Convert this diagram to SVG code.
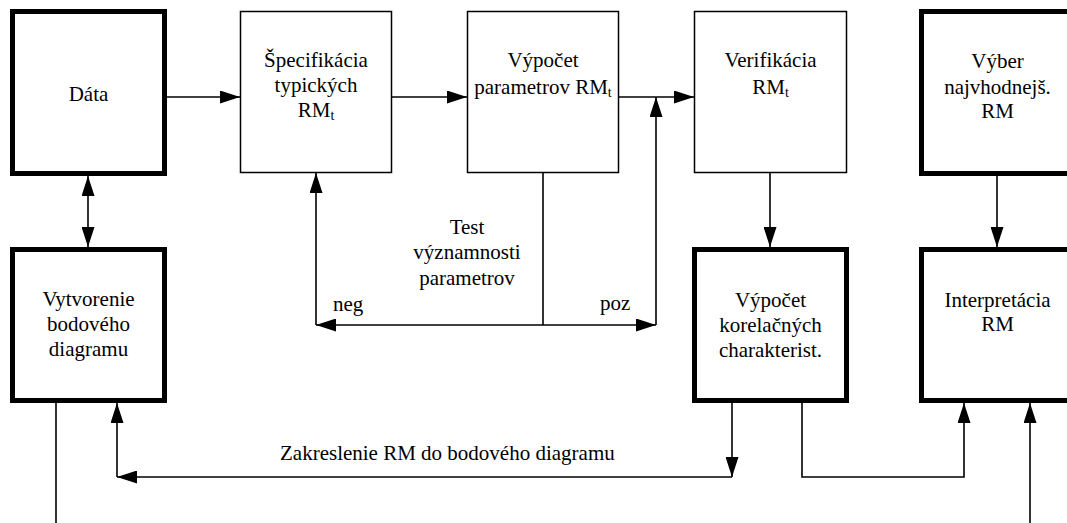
<svg xmlns="http://www.w3.org/2000/svg" width="1067" height="523" viewBox="0 0 1067 523" font-family="Liberation Serif, Times New Roman, serif" font-size="21">
<style>
.thick{fill:#fff;stroke:#000;stroke-width:5}
.thin{fill:#fff;stroke:#000;stroke-width:1.5}
.c{fill:none;stroke:#000;stroke-width:1.6}
text{font-family:"Liberation Serif","Times New Roman",serif;font-size:21px;fill:#000}
.m{text-anchor:middle}
.sub{font-size:14px}
</style>
<defs>
<marker id="ah" markerUnits="userSpaceOnUse" markerWidth="20" markerHeight="13" refX="20" refY="6.5" orient="auto-start-reverse">
<path d="M0,0 L20,6.5 L0,13 z" fill="#000"/>
</marker>
</defs>
<rect width="1067" height="523" fill="#fff"/>
<g id="connectors">
<line class="c" x1="167" y1="97" x2="240" y2="97" marker-end="url(#ah)"/>
<line class="c" x1="392" y1="97" x2="467" y2="97" marker-end="url(#ah)"/>
<line class="c" x1="619" y1="97" x2="694" y2="97" marker-end="url(#ah)"/>
<line class="c" x1="656" y1="325" x2="656" y2="97" marker-end="url(#ah)"/>
<line class="c" x1="543" y1="173" x2="543" y2="325"/>
<line class="c" x1="543" y1="325" x2="656" y2="325" marker-end="url(#ah)"/>
<line class="c" x1="543" y1="325" x2="316" y2="325" marker-end="url(#ah)"/>
<line class="c" x1="316" y1="325" x2="316" y2="173" marker-end="url(#ah)"/>
<line class="c" x1="88" y1="176" x2="88" y2="247" marker-start="url(#ah)" marker-end="url(#ah)"/>
<line class="c" x1="770" y1="173" x2="770" y2="247" marker-end="url(#ah)"/>
<line class="c" x1="997" y1="176" x2="997" y2="247" marker-end="url(#ah)"/>
<line class="c" x1="732" y1="403" x2="732" y2="477" marker-end="url(#ah)"/>
<line class="c" x1="732" y1="477" x2="117" y2="477" marker-end="url(#ah)"/>
<line class="c" x1="117" y1="477" x2="117" y2="403" marker-end="url(#ah)"/>
<polyline class="c" points="802,403 802,477 964,477 964,403" marker-end="url(#ah)"/>
<line class="c" x1="1030" y1="523" x2="1030" y2="403" marker-end="url(#ah)"/>
<line class="c" x1="56" y1="403" x2="56" y2="523"/>
<text x="467" y="234" class="m" font-family="Liberation Serif, serif">Test</text>
<text x="467" y="259" class="m" font-family="Liberation Serif, serif">významnosti</text>
<text x="467" y="285" class="m" font-family="Liberation Serif, serif">parametrov</text>
<text x="333" y="311" font-family="Liberation Serif, serif">neg</text>
<text x="600" y="310" font-family="Liberation Serif, serif">poz</text>
<text x="280" y="460" font-family="Liberation Serif, serif">Zakreslenie RM do bodového diagramu</text>
</g>
<g id="data" font-family="Liberation Serif, serif">
<rect class="thick" x="12.5" y="11.5" width="152" height="162"/>
<text x="88.5" y="101" class="m">Dáta</text>
</g>
<g id="specifikacia" font-family="Liberation Serif, serif">
<rect class="thin" x="240.5" y="11.5" width="151" height="161"/>
<text x="316" y="67" class="m">Špecifikácia</text>
<text x="316" y="92" class="m">typických</text>
<text x="316" y="117" class="m">RM<tspan class="sub" dy="3">t</tspan></text>
</g>
<g id="vypocet-parametrov" font-family="Liberation Serif, serif">
<rect class="thin" x="467.5" y="11.5" width="151" height="161"/>
<text x="543" y="67" class="m">Výpočet</text>
<text x="543" y="94" class="m">parametrov RM<tspan class="sub" dy="3">t</tspan></text>
</g>
<g id="verifikacia" font-family="Liberation Serif, serif">
<rect class="thin" x="694.5" y="11.5" width="152" height="161"/>
<text x="770.5" y="67" class="m">Verifikácia</text>
<text x="770.5" y="94" class="m">RM<tspan class="sub" dy="3">t</tspan></text>
</g>
<g id="vyber" font-family="Liberation Serif, serif">
<rect class="thick" x="921.5" y="11.5" width="152" height="162"/>
<text x="997.5" y="68" class="m">Výber</text>
<text x="997.5" y="93.5" class="m">najvhodnejš.</text>
<text x="997.5" y="118" class="m">RM</text>
</g>
<g id="vytvorenie" font-family="Liberation Serif, serif">
<rect class="thick" x="12.5" y="249.5" width="152" height="151"/>
<text x="88.5" y="306" class="m">Vytvorenie</text>
<text x="88.5" y="331" class="m">bodového</text>
<text x="88.5" y="356" class="m">diagramu</text>
</g>
<g id="korelacne" font-family="Liberation Serif, serif">
<rect class="thick" x="694.5" y="249.5" width="152" height="151"/>
<text x="770.5" y="307" class="m">Výpočet</text>
<text x="770.5" y="332" class="m">korelačných</text>
<text x="770.5" y="357" class="m">charakterist.</text>
</g>
<g id="interpretacia" font-family="Liberation Serif, serif">
<rect class="thick" x="921.5" y="249.5" width="152" height="151"/>
<text x="997.5" y="307" class="m">Interpretácia</text>
<text x="997.5" y="331" class="m">RM</text>
</g>
</svg>
